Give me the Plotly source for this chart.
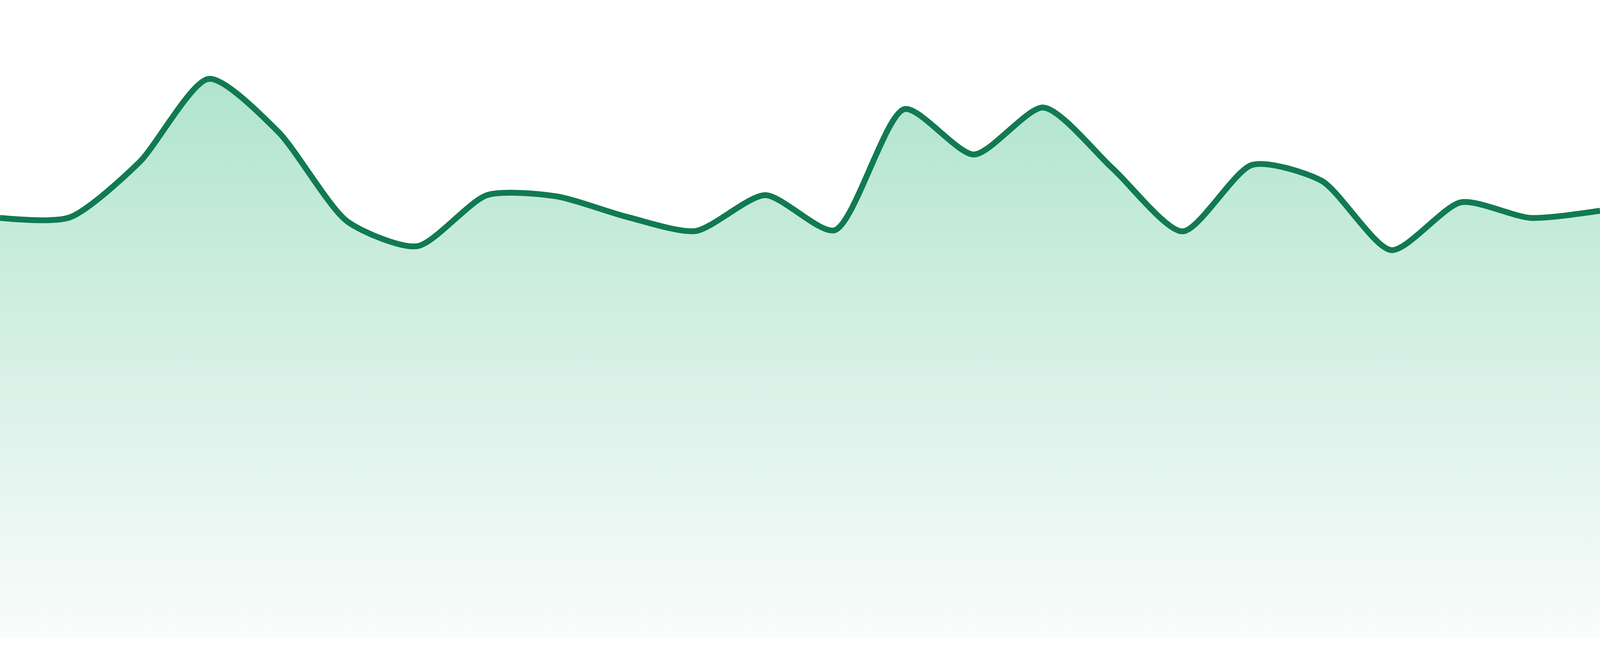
import plotly.graph_objects as go

# daily values
days = list(range(24))
values = [105.3, 105.4, 119.2, 140.2, 126.9, 104.3, 98.2, 111.0,
          110.7, 105.6, 102.0, 111.0, 102.2, 132.6, 121.2, 133.0,
          117.6, 101.9, 118.6, 114.6, 97.2, 109.2, 105.3, 107.1]

line_color = '#117a52'
fill_colors = [[0, 'rgb(249,252,251)'],
               [0.5, 'rgb(215,240,230)'],
               [1, 'rgb(176,228,206)']]

fig = go.Figure(go.Scatter(
    x=days, y=values,
    mode='lines',
    line=dict(color=line_color, width=15, shape='spline', smoothing=0.7),
    fill='tozeroy',
    fillgradient=dict(type='vertical', start=0, stop=max(values),
                      colorscale=fill_colors),
    hoverinfo='skip',
))

fig.update_layout(
    autosize=True,
    margin=dict(l=0, r=0, t=0, b=48),
    paper_bgcolor='white',
    plot_bgcolor='white',
    showlegend=False,
    xaxis=dict(range=[0, 23], visible=False, fixedrange=True),
    yaxis=dict(range=[0, 160], visible=False, fixedrange=True),
)

# fill the browser window, no page margin / scrollbars
fig.write_html("out.html", config={'displayModeBar': False},
               default_width='100vw', default_height='100vh',
               post_script="document.body.style.margin='0';document.body.style.overflow='hidden';")
